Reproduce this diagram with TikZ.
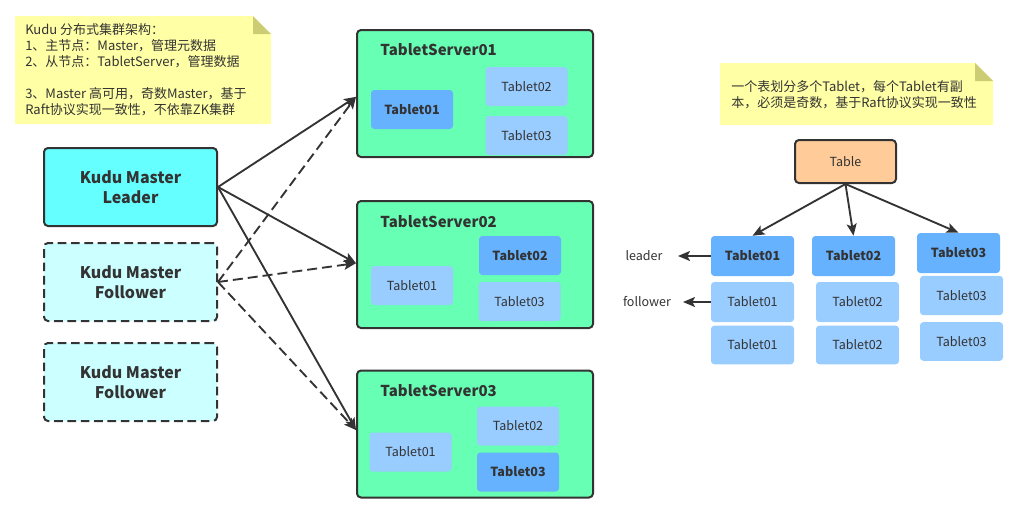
\documentclass[tikz,border=0pt]{standalone}
\usepackage{fontspec}
\setmainfont{Noto Sans CJK SC}
\usetikzlibrary{arrows.meta}
\definecolor{ink}{HTML}{333333}
\definecolor{notefill}{HTML}{FFFFA6}
\definecolor{notefold}{HTML}{CCCC75}
\definecolor{leaderfill}{HTML}{66FFFF}
\definecolor{followerfill}{HTML}{CCFFFF}
\definecolor{serverfill}{HTML}{66FFB3}
\definecolor{darktab}{HTML}{66B2FF}
\definecolor{lighttab}{HTML}{99CCFF}
\definecolor{tablefill}{HTML}{FFCC99}
\tikzset{
  master/.style={draw=ink, line width=1.5pt, rounded corners=3pt, minimum width=129.75pt, minimum height=58.5pt, inner sep=0pt, align=center, text=ink, font=\fontsize{12}{15}\selectfont\bfseries},
  leaderbox/.style={master, fill=leaderfill},
  followerbox/.style={master, fill=followerfill, dash pattern=on 6.5pt off 3.5pt},
  server/.style={draw=ink, line width=1.5pt, rounded corners=3pt, fill=serverfill, minimum width=177pt, minimum height=95.25pt, inner sep=0pt},
  stitle/.style={anchor=west, inner sep=0pt, text=ink, font=\fontsize{11.25}{14}\selectfont\bfseries},
  tab/.style={rounded corners=2.5pt, minimum width=61.5pt, minimum height=29.25pt, inner sep=0pt, text=ink},
  darkt/.style={tab, fill=darktab, font=\fontsize{9.4}{11}\selectfont\bfseries},
  lightt/.style={tab, fill=lighttab, font=\fontsize{9.4}{11}\selectfont},
  tablebox/.style={draw=ink, line width=1.5pt, rounded corners=3pt, fill=tablefill, minimum width=75.75pt, minimum height=32.25pt, inner sep=0pt, text=ink, font=\fontsize{9.4}{11}\selectfont},
  notetext/.style={inner sep=0pt, align=left, text=ink, font=\fontsize{9.75}{12}\selectfont},
  lbl/.style={inner sep=0pt, text=ink, font=\fontsize{9.4}{11}\selectfont},
  conn/.style={draw=ink, line width=1.4pt, -{Stealth[length=9pt,width=7.5pt,inset=2pt]}},
  dconn/.style={conn, dash pattern=on 7.5pt off 3.75pt},
}
\begin{document}
\begin{tikzpicture}[x=0.75pt,y=-0.75pt]
\useasboundingbox (0,0) rectangle (1025,519);

% note 1
\fill[notefill] (15,16) -- (253,16) -- (271,34) -- (271,124) -- (15,124) -- cycle;
\fill[notefold] (253,16) -- (253,34) -- (271,34) -- cycle;
\node[notetext, anchor=north west] (note1) at (25,23) {Kudu 分布式集群架构：\\1、主节点：Master，管理元数据\\2、从节点：TabletServer，管理数据\\[12pt]3、Master 高可用，奇数Master，基于\\Raft协议实现一致性，不依靠ZK集群};

% note 2
\fill[notefill] (720,63) -- (975,63) -- (993,81) -- (993,125) -- (720,125) -- cycle;
\fill[notefold] (975,63) -- (975,81) -- (993,81) -- cycle;
\node[notetext, anchor=west] (note2) at (731,95) {一个表划分多个Tablet，每个Tablet有副\\本，必须是奇数，基于Raft协议实现一致性};

% masters
\node[leaderbox] (leader) at (130.5,187) {Kudu Master\\Leader};
\node[followerbox] (f1) at (130.5,282) {Kudu Master\\Follower};
\node[followerbox] (f2) at (130.5,382) {Kudu Master\\Follower};

% tablet servers
\node[server] (ts1) at (475,93.5) {};
\node[stitle] (ts1t) at (380,50) {TabletServer01};
\node[darkt] (ts1a) at (412,109.5) {Tablet01};
\node[lightt] (ts1b) at (526.5,86.5) {Tablet02};
\node[lightt] (ts1c) at (526.5,135.5) {Tablet03};

\node[server] (ts2) at (475,264.5) {};
\node[stitle] (ts2t) at (380,222) {TabletServer02};
\node[darkt] (ts2b) at (520,255.5) {Tablet02};
\node[lightt] (ts2a) at (412,285.5) {Tablet01};
\node[lightt] (ts2c) at (519.5,301.5) {Tablet03};

\node[server] (ts3) at (475,434) {};
\node[stitle] (ts3t) at (380,391) {TabletServer03};
\node[lightt] (ts3b) at (518,426) {Tablet02};
\node[lightt] (ts3a) at (410.5,452) {Tablet01};
\node[darkt] (ts3c) at (518,472) {Tablet03};

% master connectors
\draw[conn] (leader.east) -- ([yshift=-2.5pt]ts1.west);
\draw[conn] (leader.east) -- ([yshift=1pt]ts2.west);
\draw[conn] (leader.east) -- ([yshift=3pt]ts3.west);
\draw[dconn] (f1.east) -- ([yshift=-2.5pt]ts1.west);
\draw[dconn] (f1.east) -- ([yshift=1pt]ts2.west);
\draw[dconn] (f1.east) -- ([yshift=3pt]ts3.west);

% right side
\node[tablebox] (table) at (845.5,161.5) {Table};
\node[darkt, minimum width=62.25pt, minimum height=30pt] (r1a) at (752.5,256) {Tablet01};
\node[darkt, minimum width=62.25pt, minimum height=30pt] (r2a) at (853.5,256) {Tablet02};
\node[darkt, minimum width=62.25pt, minimum height=30pt] (r3a) at (958.5,253) {Tablet03};
\node[lightt, minimum width=62.25pt, minimum height=30pt] (r1b) at (752.5,302) {Tablet01};
\node[lightt, minimum width=62.25pt, minimum height=29pt] (r1c) at (752.5,345) {Tablet01};
\node[lightt, minimum width=62.25pt, minimum height=30pt] (r2b) at (857.5,302) {Tablet02};
\node[lightt, minimum width=62.25pt, minimum height=29pt] (r2c) at (857.5,345) {Tablet02};
\node[lightt, minimum width=62.25pt, minimum height=29.5pt] (r3b) at (961.5,295.5) {Tablet03};
\node[lightt, minimum width=62.25pt, minimum height=29pt] (r3c) at (961.5,341.5) {Tablet03};

\draw[conn] (table.south) -- (r1a.north);
\draw[conn] (table.south) -- (r2a.north);
\draw[conn] (table.south) -- (r3a.north);

\node[lbl] (lleader) at (644,256) {leader};
\node[lbl] (lfollower) at (647,302) {follower};
\coordinate (tipL) at (678,256);
\coordinate (tipF) at (683,302);
\draw[conn] (r1a.west) -- (tipL);
\draw[conn] (r1b.west) -- (tipF);
\end{tikzpicture}
\end{document}
